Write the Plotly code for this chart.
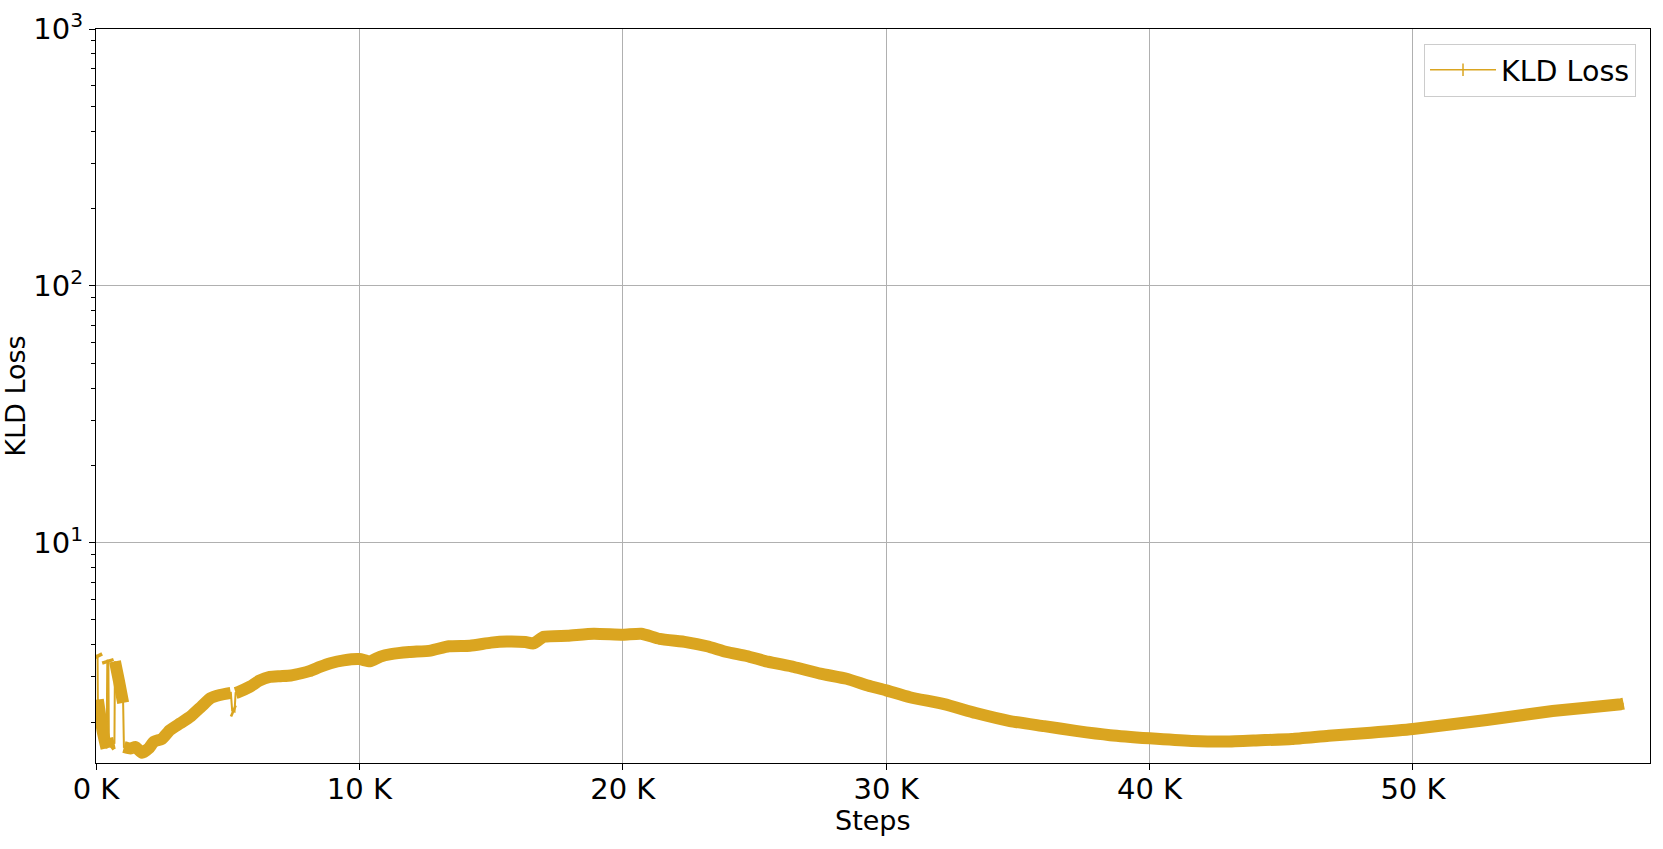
import plotly.graph_objects as go

# ---- data (steps, KLD loss) ----
steps = [0, 60,
         70, 250, 400,
         430, 470,
         490, 600, 700,
         720, 870, 1030,
         1060, 1300, 1500, 1750, 2000, 2200, 2500, 2800, 3200, 3600, 4000, 4350, 4700, 5120,
         5170, 5260,
         5300, 5400, 5850, 6200, 6600, 7000, 7400, 7800, 8100, 8500, 8900, 9400, 10000,
         10400, 10800, 11200, 11900, 12700, 13400, 14200, 15000, 15600, 16300, 16600,
         17000, 17900, 18900, 20000, 20700, 21400, 22400, 23200, 23950, 24700, 25500,
         26500, 27500, 28500, 29300, 30000, 30900, 32200, 33400, 34700, 36000, 37200,
         38500, 40000, 41600, 42900, 44200, 45400, 46800, 48400, 50000, 52800, 55300,
         57900, 58000]
kld = [3.65, 3.55,
       2.45, 1.85, 1.58,
       3.5, 3.4,
       1.62, 1.65, 1.66,
       3.45, 2.9, 2.38,
       1.6, 1.58, 1.6, 1.52, 1.58, 1.68, 1.72, 1.86, 1.98, 2.11, 2.3, 2.48, 2.55, 2.6,
       2.22, 2.2,
       2.6, 2.62, 2.75, 2.9, 3.0, 3.02, 3.04, 3.1, 3.16, 3.28, 3.39, 3.48, 3.52,
       3.45, 3.6, 3.68, 3.75, 3.8, 3.95, 3.97, 4.08, 4.12, 4.1, 4.05,
       4.3, 4.34, 4.42, 4.38, 4.42, 4.22, 4.1, 3.95, 3.75, 3.62, 3.44,
       3.28, 3.09, 2.95, 2.78, 2.66, 2.5, 2.35, 2.17, 2.02, 1.93, 1.85,
       1.78, 1.73, 1.69, 1.68, 1.70, 1.72, 1.77, 1.82, 1.88, 2.04, 2.21,
       2.35, 2.36]
# indices after which the logged curve jumps (thin connecting strokes)
jump_after = [1, 4, 6, 9, 12, 26, 28]

x_tickvals = [0, 10000, 20000, 30000, 40000, 50000]
x_ticktext = ["0 K", "10 K", "20 K", "30 K", "40 K", "50 K"]
y_tickvals = [10, 100, 1000]
y_ticktext = ["10<sup>1</sup>", "10<sup>2</sup>", "10<sup>3</sup>"]
y_decades = [1, 10, 100]
y_minor_digits = [2, 3, 4, 5, 6, 7, 8, 9]

color = "#DAA520"
font_family = "DejaVu Sans, Arial, sans-serif"
fs = 27
tfs = 29
lfs = 28.5

y_minor_vals = [d * m for d in y_decades for m in y_minor_digits]

# thick band trace with gaps at jumps
bx, by = [], []
for i, (s, v) in enumerate(zip(steps, kld)):
    bx.append(s)
    by.append(v)
    if i in jump_after:
        bx.append(None)
        by.append(None)

fig = go.Figure()
fig.add_trace(go.Scatter(x=steps, y=kld, mode="lines",
                         line=dict(color=color, width=2),
                         showlegend=False, hoverinfo="skip"))
fig.add_trace(go.Scatter(x=bx, y=by, mode="lines", connectgaps=False,
                         line=dict(color=color, width=12, shape="spline", smoothing=0.5),
                         showlegend=False, name="KLD Loss"))
fig.add_trace(go.Scatter(x=[None], y=[None], mode="lines+markers", name="KLD Loss",
                         line=dict(color=color, width=1.5),
                         marker=dict(symbol="line-ns-open", size=9,
                                     line=dict(color=color, width=1.5))))

axis_common = dict(showline=True, linecolor="black", linewidth=1.3, mirror=True,
                   showgrid=True, gridcolor="#b0b0b0", gridwidth=1,
                   ticks="outside", tickcolor="black", ticklen=6, tickwidth=1.2,
                   zeroline=False, automargin=False,
                   tickfont=dict(family=font_family, size=tfs, color="black"))

fig.update_xaxes(**axis_common, range=[0, 59000], tickvals=x_tickvals,
                 ticktext=x_ticktext, ticklabelstandoff=-6)
fig.update_yaxes(**axis_common, type="log", range=[0.142, 3.0],
                 tickvals=y_tickvals, ticktext=y_ticktext,
                 minor=dict(tickmode="array", tickvals=y_minor_vals,
                            ticks="outside", ticklen=3.5, tickcolor="black",
                            tickwidth=1, showgrid=False),
                 title=dict(text="KLD Loss", font=dict(family=font_family, size=fs, color="black"),
                            standoff=12))

fig.add_annotation(text="Steps", xref="paper", yref="paper", x=0.5, y=-0.0777,
                   xanchor="center", yanchor="middle", showarrow=False,
                   font=dict(family=font_family, size=fs, color="black"))

fig.update_layout(
    width=1663, height=849,
    margin=dict(l=96, r=13, t=29, b=86),
    paper_bgcolor="white", plot_bgcolor="white",
    font=dict(family=font_family, size=fs, color="black"),
    legend=dict(x=0.991, y=0.98, xanchor="right", yanchor="top",
                itemwidth=66,
                bgcolor="rgba(255,255,255,0.8)", bordercolor="#cccccc", borderwidth=1,
                font=dict(family=font_family, size=lfs, color="black")),
)

fig.write_html("out.html", config={"displayModeBar": False},
               post_script="document.body.style.margin='0';")
